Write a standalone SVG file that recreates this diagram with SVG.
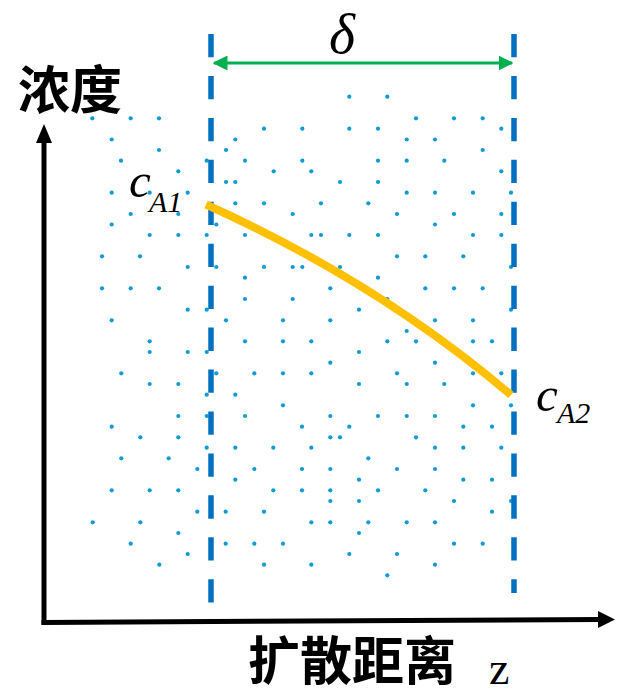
<svg xmlns="http://www.w3.org/2000/svg" width="617" height="695" viewBox="0 0 617 695">
<style>
.d{fill:#0E9AD3}
.bd{stroke:#0070C0;stroke-width:5.5;stroke-dasharray:23.3 18.64;fill:none}
.ax{stroke:#000;stroke-width:5;fill:none}
.cj{font-family:"Noto Sans CJK SC","Noto Sans",sans-serif;font-weight:700;font-size:52px;fill:#000}
.it{font-family:"Liberation Serif","Times New Roman",serif;font-style:italic;fill:#000}
</style>
<defs>
<marker id="ga" viewBox="0 0 10 10" refX="9" refY="5" markerWidth="5" markerHeight="5" orient="auto-start-reverse" markerUnits="strokeWidth">
<path d="M0,0 L10,5 L0,10 z" fill="#00B050"/>
</marker>
</defs>
<g id="dots">
<circle class="d" cx="349.3" cy="96.7" r="2.1"/><circle class="d" cx="387.3" cy="96.7" r="2.1"/>
<circle class="d" cx="92.3" cy="118.3" r="2.1"/><circle class="d" cx="130.7" cy="118.3" r="2.1"/><circle class="d" cx="159" cy="118.3" r="2.1"/><circle class="d" cx="416" cy="118.3" r="2.1"/><circle class="d" cx="454" cy="118.3" r="2.1"/><circle class="d" cx="482.7" cy="118.3" r="2.1"/>
<circle class="d" cx="264" cy="128.7" r="2.1"/><circle class="d" cx="302.3" cy="128.7" r="2.1"/><circle class="d" cx="349.3" cy="128.7" r="2.1"/><circle class="d" cx="378" cy="128.7" r="2.1"/><circle class="d" cx="501.3" cy="128.7" r="2.1"/>
<circle class="d" cx="111.7" cy="139.5" r="2.1"/><circle class="d" cx="235.3" cy="139.5" r="2.1"/><circle class="d" cx="406.7" cy="139.5" r="2.1"/><circle class="d" cx="435" cy="139.5" r="2.1"/>
<circle class="d" cx="159" cy="150" r="2.1"/><circle class="d" cx="226" cy="150" r="2.1"/><circle class="d" cx="482.7" cy="150" r="2.1"/>
<circle class="d" cx="121" cy="160.7" r="2.1"/><circle class="d" cx="206.7" cy="160.7" r="2.1"/><circle class="d" cx="245" cy="160.7" r="2.1"/><circle class="d" cx="302.3" cy="160.7" r="2.1"/><circle class="d" cx="378" cy="160.7" r="2.1"/><circle class="d" cx="406.7" cy="160.7" r="2.1"/><circle class="d" cx="444.3" cy="160.7" r="2.1"/>
<circle class="d" cx="178.3" cy="171.3" r="2.1"/><circle class="d" cx="273.7" cy="171.3" r="2.1"/><circle class="d" cx="311.3" cy="171.3" r="2.1"/><circle class="d" cx="501.3" cy="171.3" r="2.1"/>
<circle class="d" cx="226" cy="182" r="2.1"/><circle class="d" cx="235.3" cy="182" r="2.1"/><circle class="d" cx="340" cy="182" r="2.1"/><circle class="d" cx="378" cy="182" r="2.1"/>
<circle class="d" cx="111.7" cy="192.7" r="2.1"/><circle class="d" cx="149.7" cy="192.7" r="2.1"/><circle class="d" cx="187.7" cy="192.7" r="2.1"/><circle class="d" cx="406.7" cy="192.7" r="2.1"/><circle class="d" cx="435" cy="192.7" r="2.1"/><circle class="d" cx="473" cy="192.7" r="2.1"/><circle class="d" cx="511" cy="192.7" r="2.1"/>
<circle class="d" cx="235.3" cy="203.3" r="2.1"/><circle class="d" cx="264" cy="203.3" r="2.1"/><circle class="d" cx="321" cy="203.3" r="2.1"/><circle class="d" cx="368.3" cy="203.3" r="2.1"/>
<circle class="d" cx="130.7" cy="214" r="2.1"/><circle class="d" cx="178.3" cy="214" r="2.1"/><circle class="d" cx="292.7" cy="214" r="2.1"/><circle class="d" cx="397" cy="214" r="2.1"/><circle class="d" cx="454" cy="214" r="2.1"/><circle class="d" cx="501.3" cy="214" r="2.1"/>
<circle class="d" cx="111.7" cy="224.5" r="2.1"/><circle class="d" cx="216.3" cy="224.5" r="2.1"/><circle class="d" cx="435" cy="224.5" r="2.1"/>
<circle class="d" cx="149.7" cy="235" r="2.1"/><circle class="d" cx="178.3" cy="235" r="2.1"/><circle class="d" cx="206.7" cy="235" r="2.1"/><circle class="d" cx="245" cy="235" r="2.1"/><circle class="d" cx="311.3" cy="235" r="2.1"/><circle class="d" cx="321" cy="235" r="2.1"/><circle class="d" cx="349.3" cy="235" r="2.1"/><circle class="d" cx="378" cy="235" r="2.1"/><circle class="d" cx="473" cy="235" r="2.1"/><circle class="d" cx="501.3" cy="235" r="2.1"/>
<circle class="d" cx="102" cy="256.3" r="2.1"/><circle class="d" cx="140" cy="256.3" r="2.1"/><circle class="d" cx="397" cy="256.3" r="2.1"/><circle class="d" cx="425.3" cy="256.3" r="2.1"/><circle class="d" cx="463.3" cy="256.3" r="2.1"/>
<circle class="d" cx="187.7" cy="267" r="2.1"/><circle class="d" cx="216.3" cy="267" r="2.1"/><circle class="d" cx="264" cy="267" r="2.1"/><circle class="d" cx="292.7" cy="267" r="2.1"/><circle class="d" cx="302.3" cy="267" r="2.1"/><circle class="d" cx="340" cy="267" r="2.1"/><circle class="d" cx="511" cy="267" r="2.1"/>
<circle class="d" cx="245" cy="277.7" r="2.1"/><circle class="d" cx="378" cy="277.7" r="2.1"/>
<circle class="d" cx="102" cy="288.3" r="2.1"/><circle class="d" cx="130.7" cy="288.3" r="2.1"/><circle class="d" cx="159" cy="288.3" r="2.1"/><circle class="d" cx="330.3" cy="288.3" r="2.1"/><circle class="d" cx="425.3" cy="288.3" r="2.1"/><circle class="d" cx="454" cy="288.3" r="2.1"/><circle class="d" cx="482.7" cy="288.3" r="2.1"/>
<circle class="d" cx="245" cy="299" r="2.1"/><circle class="d" cx="292.7" cy="299" r="2.1"/><circle class="d" cx="387.3" cy="299" r="2.1"/>
<circle class="d" cx="187.7" cy="309.7" r="2.1"/><circle class="d" cx="206.7" cy="309.7" r="2.1"/><circle class="d" cx="359" cy="309.7" r="2.1"/><circle class="d" cx="511" cy="309.7" r="2.1"/>
<circle class="d" cx="111.7" cy="320.3" r="2.1"/><circle class="d" cx="226" cy="320.3" r="2.1"/><circle class="d" cx="283" cy="320.3" r="2.1"/><circle class="d" cx="330.3" cy="320.3" r="2.1"/><circle class="d" cx="435" cy="320.3" r="2.1"/><circle class="d" cx="473" cy="320.3" r="2.1"/>
<circle class="d" cx="406.7" cy="331" r="2.1"/>
<circle class="d" cx="149.7" cy="341.3" r="2.1"/><circle class="d" cx="245" cy="341.3" r="2.1"/><circle class="d" cx="283" cy="341.3" r="2.1"/><circle class="d" cx="311.3" cy="341.3" r="2.1"/><circle class="d" cx="387.3" cy="341.3" r="2.1"/><circle class="d" cx="416" cy="341.3" r="2.1"/><circle class="d" cx="473" cy="341.3" r="2.1"/><circle class="d" cx="492" cy="341.3" r="2.1"/>
<circle class="d" cx="149.7" cy="352" r="2.1"/><circle class="d" cx="187.7" cy="352" r="2.1"/><circle class="d" cx="206.7" cy="352" r="2.1"/><circle class="d" cx="359" cy="352" r="2.1"/>
<circle class="d" cx="330.3" cy="362.7" r="2.1"/><circle class="d" cx="435" cy="362.7" r="2.1"/>
<circle class="d" cx="121.3" cy="373.3" r="2.1"/><circle class="d" cx="216.3" cy="373.3" r="2.1"/><circle class="d" cx="254.3" cy="373.3" r="2.1"/><circle class="d" cx="283" cy="373.3" r="2.1"/><circle class="d" cx="311.3" cy="373.3" r="2.1"/><circle class="d" cx="397" cy="373.3" r="2.1"/><circle class="d" cx="473" cy="373.3" r="2.1"/><circle class="d" cx="501.3" cy="373.3" r="2.1"/>
<circle class="d" cx="149.7" cy="384" r="2.1"/><circle class="d" cx="178.3" cy="384" r="2.1"/><circle class="d" cx="359" cy="384" r="2.1"/><circle class="d" cx="406.7" cy="384" r="2.1"/><circle class="d" cx="444.3" cy="384" r="2.1"/>
<circle class="d" cx="206.7" cy="394.7" r="2.1"/><circle class="d" cx="235.3" cy="394.7" r="2.1"/>
<circle class="d" cx="283" cy="405.3" r="2.1"/><circle class="d" cx="473" cy="405.3" r="2.1"/><circle class="d" cx="511" cy="405.3" r="2.1"/>
<circle class="d" cx="178.3" cy="416" r="2.1"/><circle class="d" cx="206.7" cy="416" r="2.1"/><circle class="d" cx="245" cy="416" r="2.1"/><circle class="d" cx="330.3" cy="416" r="2.1"/><circle class="d" cx="378" cy="416" r="2.1"/><circle class="d" cx="406.7" cy="416" r="2.1"/><circle class="d" cx="435" cy="416" r="2.1"/>
<circle class="d" cx="111.7" cy="426.7" r="2.1"/><circle class="d" cx="302" cy="426.7" r="2.1"/><circle class="d" cx="349.3" cy="426.7" r="2.1"/><circle class="d" cx="463.3" cy="426.7" r="2.1"/><circle class="d" cx="492" cy="426.7" r="2.1"/>
<circle class="d" cx="140.3" cy="437.3" r="2.1"/><circle class="d" cx="178.3" cy="437.3" r="2.1"/><circle class="d" cx="330.3" cy="437.3" r="2.1"/><circle class="d" cx="340" cy="437.3" r="2.1"/><circle class="d" cx="416" cy="437.3" r="2.1"/>
<circle class="d" cx="206.7" cy="447.7" r="2.1"/><circle class="d" cx="235.3" cy="447.7" r="2.1"/><circle class="d" cx="273.3" cy="447.7" r="2.1"/><circle class="d" cx="311.3" cy="447.7" r="2.1"/><circle class="d" cx="435" cy="447.7" r="2.1"/><circle class="d" cx="463.3" cy="447.7" r="2.1"/><circle class="d" cx="501.3" cy="447.7" r="2.1"/>
<circle class="d" cx="121.3" cy="458.3" r="2.1"/><circle class="d" cx="168.7" cy="458.3" r="2.1"/><circle class="d" cx="368.3" cy="458.3" r="2.1"/>
<circle class="d" cx="197.3" cy="469" r="2.1"/><circle class="d" cx="254.3" cy="469" r="2.1"/><circle class="d" cx="302" cy="469" r="2.1"/><circle class="d" cx="330.3" cy="469" r="2.1"/><circle class="d" cx="397" cy="469" r="2.1"/><circle class="d" cx="435" cy="469" r="2.1"/>
<circle class="d" cx="235.3" cy="479.7" r="2.1"/><circle class="d" cx="359" cy="479.7" r="2.1"/><circle class="d" cx="463.3" cy="479.7" r="2.1"/><circle class="d" cx="492" cy="479.7" r="2.1"/>
<circle class="d" cx="111.7" cy="490.3" r="2.1"/><circle class="d" cx="149.7" cy="490.3" r="2.1"/><circle class="d" cx="178.3" cy="490.3" r="2.1"/><circle class="d" cx="273.3" cy="490.3" r="2.1"/><circle class="d" cx="302" cy="490.3" r="2.1"/><circle class="d" cx="330.3" cy="490.3" r="2.1"/><circle class="d" cx="378" cy="490.3" r="2.1"/><circle class="d" cx="425.3" cy="490.3" r="2.1"/>
<circle class="d" cx="330.3" cy="501" r="2.1"/><circle class="d" cx="359" cy="501" r="2.1"/><circle class="d" cx="454" cy="501" r="2.1"/><circle class="d" cx="511" cy="501" r="2.1"/>
<circle class="d" cx="197.3" cy="511.7" r="2.1"/><circle class="d" cx="225.7" cy="511.7" r="2.1"/><circle class="d" cx="264" cy="511.7" r="2.1"/><circle class="d" cx="492" cy="511.7" r="2.1"/>
<circle class="d" cx="92.7" cy="522.3" r="2.1"/><circle class="d" cx="140.3" cy="522.3" r="2.1"/><circle class="d" cx="311.3" cy="522.3" r="2.1"/><circle class="d" cx="330.3" cy="522.3" r="2.1"/><circle class="d" cx="368.3" cy="522.3" r="2.1"/><circle class="d" cx="406.7" cy="522.3" r="2.1"/><circle class="d" cx="435" cy="522.3" r="2.1"/>
<circle class="d" cx="178.3" cy="533" r="2.1"/><circle class="d" cx="359" cy="533" r="2.1"/>
<circle class="d" cx="130.7" cy="543.7" r="2.1"/><circle class="d" cx="225.7" cy="543.7" r="2.1"/><circle class="d" cx="254.3" cy="543.7" r="2.1"/><circle class="d" cx="283" cy="543.7" r="2.1"/><circle class="d" cx="454" cy="543.7" r="2.1"/><circle class="d" cx="482.7" cy="543.7" r="2.1"/>
<circle class="d" cx="187.7" cy="554" r="2.1"/><circle class="d" cx="349.3" cy="554" r="2.1"/><circle class="d" cx="397" cy="554" r="2.1"/>
<circle class="d" cx="159.3" cy="564.7" r="2.1"/><circle class="d" cx="264" cy="564.7" r="2.1"/><circle class="d" cx="311.3" cy="564.7" r="2.1"/><circle class="d" cx="435" cy="564.7" r="2.1"/>
<circle class="d" cx="387.3" cy="575.3" r="2.1"/>
</g>
<g id="boundaries">
<line id="boundary-left" class="bd" x1="211" y1="34" x2="211" y2="603.5"/>
<line id="boundary-right" class="bd" x1="514" y1="34" x2="514" y2="593"/>
</g>
<g id="connectors">
<line id="delta-arrow" x1="214" y1="63" x2="512" y2="63" stroke="#00B050" stroke-width="3" marker-start="url(#ga)" marker-end="url(#ga)"/>
<path id="profile" d="M206,204.5 Q378,282 511,395" stroke="#FFC000" stroke-width="8" fill="none"/>
</g>
<g id="axes">
<line class="ax" x1="44" y1="625" x2="44" y2="140"/>
<polygon points="44,124 36,143 52,143" fill="#000"/>
<line class="ax" x1="41.5" y1="622.5" x2="601" y2="619.5"/>
<polygon points="615,619.5 598,611 598,628" fill="#000"/>
</g>
<g id="labels">
<text class="it" x="329" y="53" font-size="56">δ</text>
<text class="cj" x="18" y="109">浓度</text>
<text class="cj" x="248" y="680">扩散距离</text>
<text x="489" y="684" font-family="Liberation Serif,serif" font-size="46">z</text>
<text class="it" x="129" y="197" font-size="49">c</text>
<text class="it" x="149" y="211.5" font-size="30">A1</text>
<text class="it" x="536" y="411" font-size="49">c</text>
<text class="it" x="557" y="422.5" font-size="30">A2</text>
</g>
</svg>
